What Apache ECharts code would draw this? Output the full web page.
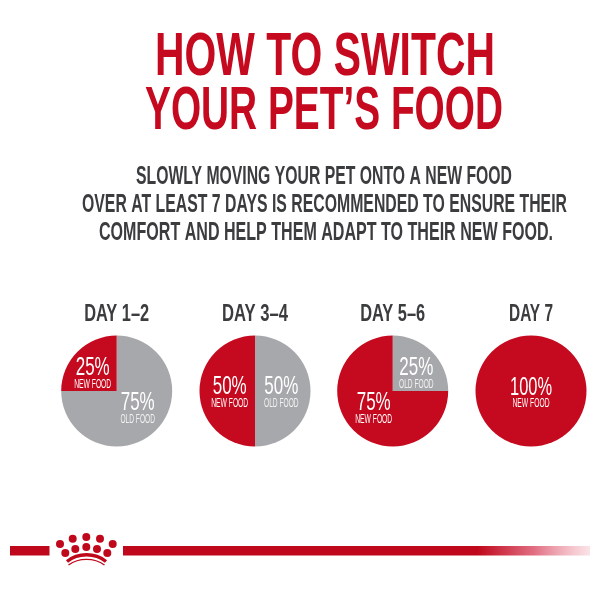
<!DOCTYPE html>
<html><head><meta charset="utf-8">
<style>html,body{margin:0;padding:0;background:#fff}#c{width:600px;height:600px}</style>
<script src="https://cdn.jsdelivr.net/npm/echarts@6/dist/echarts.min.js"></script>
</head><body><div id="c"></div>
<script>
var dayLabels = ['DAY 1–2','DAY 3–4','DAY 5–6','DAY 7'];
var oldFood = [75,50,25,0];
var newFood = [25,50,75,100];
var titleLines = ['HOW TO SWITCH','YOUR PET’S FOOD'];
var bodyLines = ['SLOWLY MOVING YOUR PET ONTO A NEW FOOD','OVER AT LEAST 7 DAYS IS RECOMMENDED TO ENSURE THEIR','COMFORT AND HELP THEM ADAPT TO THEIR NEW FOOD.'];
var newName = 'NEW FOOD', oldName = 'OLD FOOD';
var RED = '#c5091e', GREY = '#a7a8ab', DARK = '#3b3c3e';
var FONT = '"Liberation Sans"';
var centersX = [116.7,255,392.7,531], centerY = 391, R = 55.5;

var mc = document.createElement('canvas').getContext('2d');
function T(text,cx,cy,size,w,color,bold,opacity){
  var font = (bold?'bold ':'')+size+'px '+FONT;
  mc.font = font;
  var s = w / mc.measureText(text).width;
  return {type:'text',x:cx,y:cy,scaleX:s,silent:true,z:10,
    style:{x:0,y:0,text:text,font:font,fill:color,opacity:opacity==null?1:opacity,align:'center',verticalAlign:'middle'}};
}
var g = [];
g.push(T(titleLines[0],325,57.5,62,340,RED,true));
g.push(T(titleLines[1],324,111.5,62,358,RED,true));
g.push(T(bodyLines[0],324,177,25,376,DARK,true));
g.push(T(bodyLines[1],324.5,205,25,485,DARK,true));
g.push(T(bodyLines[2],326,233,25,454,DARK,true));
var dayW = [65,66,65,44];
dayLabels.forEach(function(d,i){ g.push(T(d,centersX[i],314,24.5,dayW[i],DARK,true)); });

var W='#ffffff';
// pie captions: value, name, centre x, value y, name y
[[newFood[0],newName,92.7,368.5,384.5],[oldFood[0],oldName,137.7,403.5,419.5],
 [newFood[1],newName,229.7,387.5,403.5],[oldFood[1],oldName,281.3,387.5,403.5],
 [oldFood[2],oldName,416.3,368.5,384.5],[newFood[2],newName,373.7,403.5,419.5],
 [newFood[3],newName,531,388.5,404]].forEach(function(c){
  g.push(T(c[0]+'%',c[2],c[3],25,c[0]===100?42:34,W));
  g.push(T(c[1],c[2],c[4],12.5,c[1]===newName?37:34.5,W,false,c[1]===newName?1:0.85));
});

// brand rule
g.push({type:'rect',silent:true,shape:{x:10,y:546,width:39.5,height:9.5},style:{fill:'#c0081c'}});
g.push({type:'rect',silent:true,shape:{x:123,y:546,width:467,height:9.5},style:{fill:{type:'linear',x:0,y:0,x2:1,y2:0,colorStops:[
  {offset:0,color:'#c0081c'},{offset:0.76,color:'#c0081c'},{offset:0.88,color:'rgba(225,110,130,1)'},{offset:1,color:'rgba(250,215,220,0.7)'}]}}});
// crown
[[60,544],[72.7,538.7],[86.3,537],[100,538.7],[112.7,544],[65.3,553],[75.3,549],[86.3,547],[97,549],[107.3,553]].forEach(function(p){
  g.push({type:'circle',silent:true,shape:{cx:p[0],cy:p[1],r:4},style:{fill:'#c0081c'}});
});
g.push({type:'bezierCurve',silent:true,shape:{x1:67,y1:561.5,cpx1:78,cpy1:552.5,x2:106,y2:561.5,cpx2:95,cpy2:552.5},style:{stroke:'#c0081c',lineWidth:3.4,fill:null}});
g.push({type:'bezierCurve',silent:true,shape:{x1:68.5,y1:565,cpx1:79,cpy1:557.5,x2:104.5,y2:565,cpx2:94,cpy2:557.5},style:{stroke:'#c0081c',lineWidth:1.4,fill:null}});

var series = dayLabels.map(function(d,i){
  return {type:'pie',name:d,center:[centersX[i],centerY],radius:[0,R],startAngle:90,clockwise:true,
    silent:true,animation:false,label:{show:false},labelLine:{show:false},
    itemStyle:{borderWidth:0},
    data:[{name:oldName,value:oldFood[i],itemStyle:{color:GREY}},{name:newName,value:newFood[i],itemStyle:{color:RED}}]};
});
echarts.init(document.getElementById('c'),null,{renderer:'canvas'}).setOption({
  backgroundColor:'#fff',animation:false,series:series,graphic:{elements:g}
});
</script></body></html>
